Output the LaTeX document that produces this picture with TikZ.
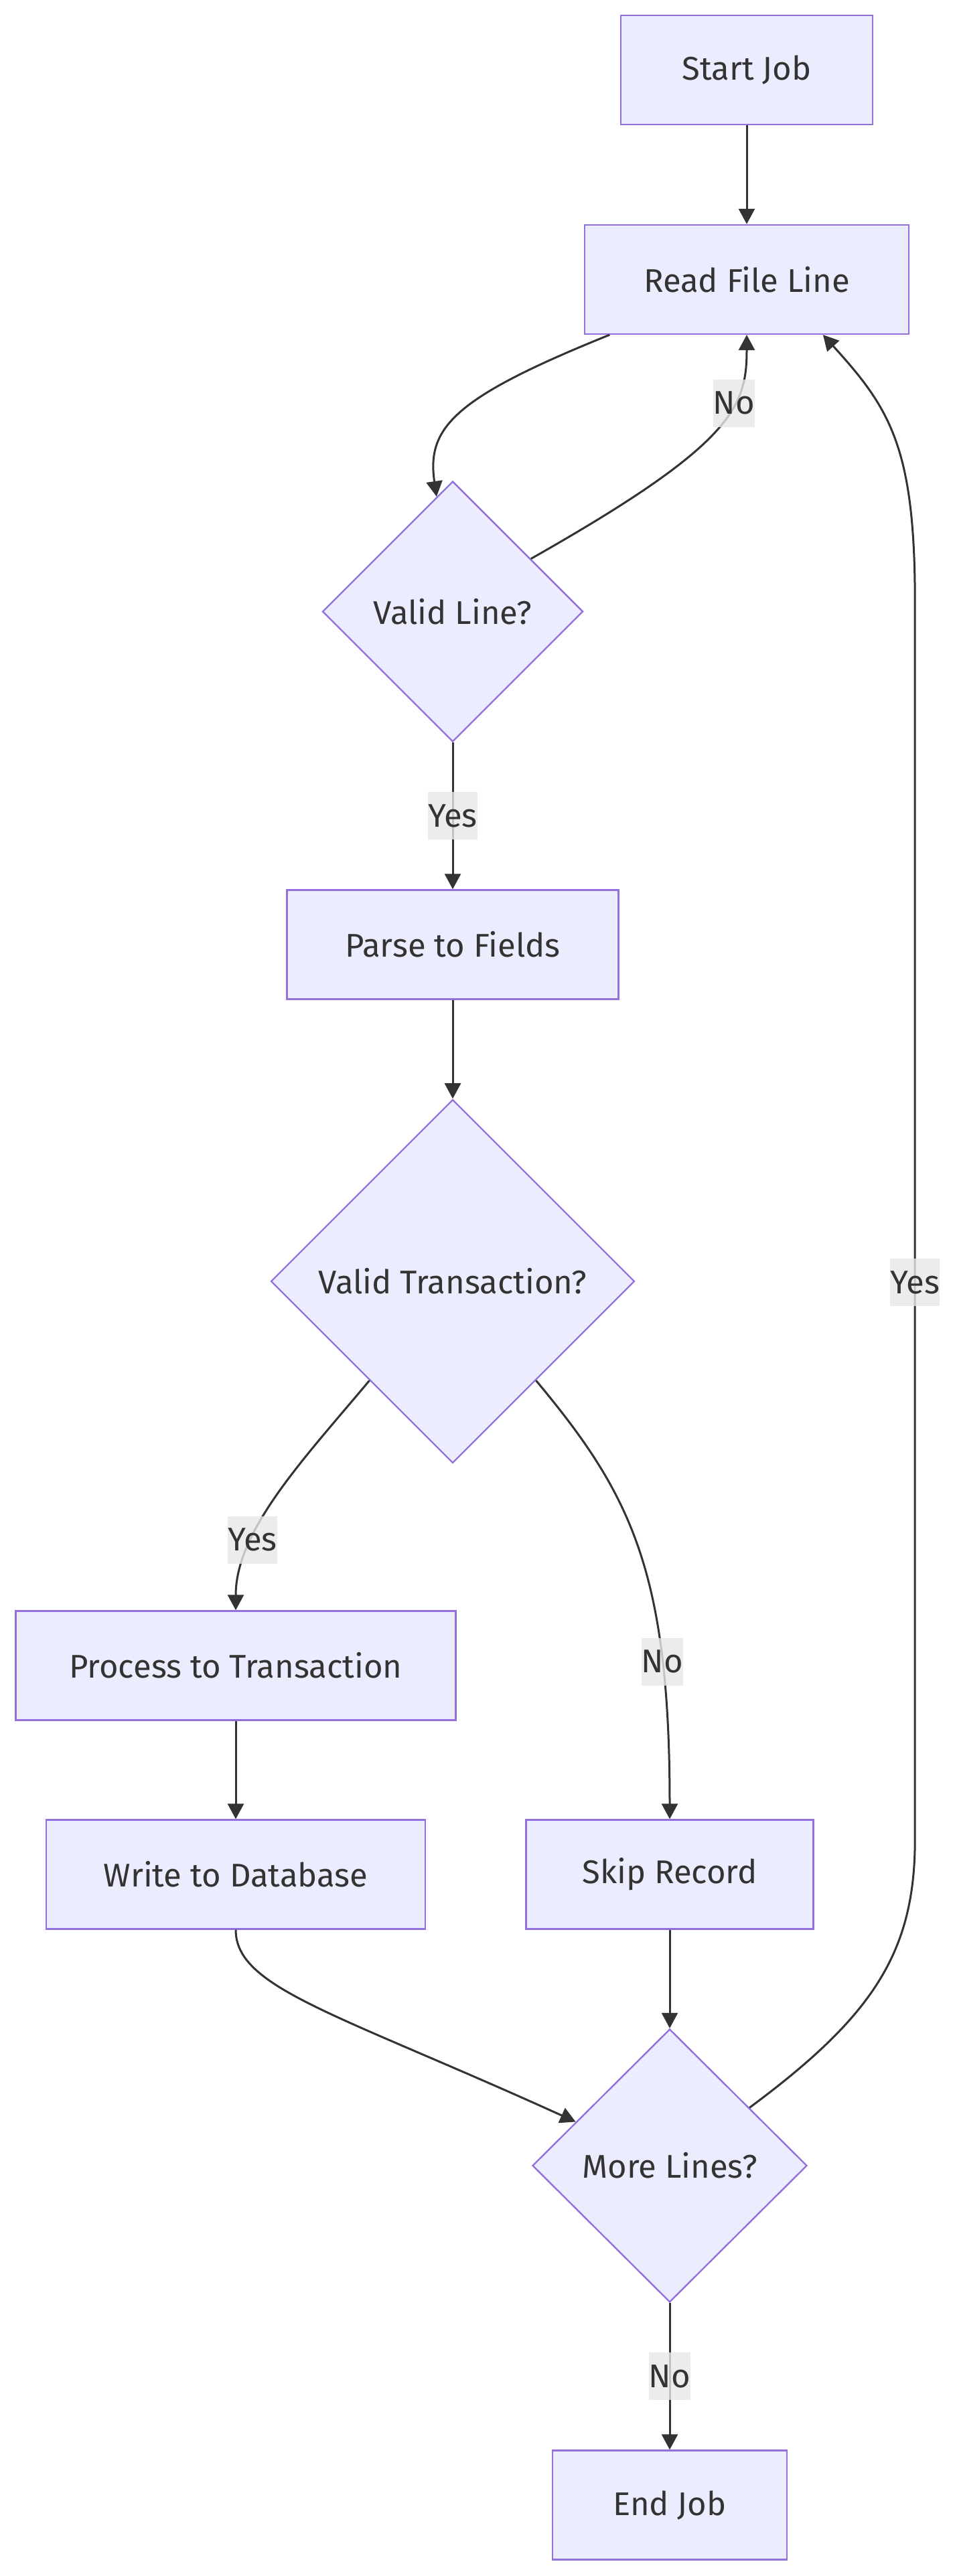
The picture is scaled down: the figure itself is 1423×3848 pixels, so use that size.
\documentclass[tikz,border=0pt]{standalone}
\usepackage{fontspec}
\setmainfont{Fira Sans}
\usepackage{tikz}
\usetikzlibrary{arrows.meta,shapes.geometric}
\usepackage{xcolor}
\definecolor{cpurple}{HTML}{9370DB}
\definecolor{clavender}{HTML}{ECECFF}
\definecolor{cdark}{HTML}{333333}
\definecolor{cgray}{HTML}{E8E8E8}

\begin{document}
\begin{tikzpicture}[x=0.5pt, y=0.5pt,
    box/.style={draw=cpurple, fill=clavender, line width=1.2pt,
      minimum height=81.5pt, text=cdark, font=\fontsize{24.5}{29}\selectfont},
    decision/.style={box, diamond, aspect=1, inner sep=0pt},
    flow/.style={draw=cdark, line width=1.5pt,
      -{Triangle[length=11.5pt, width=12pt]}},
    lbl/.style={fill=cgray, fill opacity=0.8, text opacity=1, text=cdark,
      inner sep=0pt, minimum height=35.5pt, font=\fontsize{24.5}{29}\selectfont}]
    \path[fill=white, use as bounding box] (0,0) rectangle (1423,3848);

    \node[box, minimum width=188pt] (start) at (1115,3743.5) {Start Job};
    \node[box, minimum width=242pt] (read) at (1115,3430.5) {Read File Line};
    \node[decision, minimum width=194.5pt, minimum height=194.5pt]
      (validline) at (676,2934.5) {Valid Line?};
    \node[box, minimum width=247.5pt] (parse) at (676,2437) {Parse to Fields};
    \node[decision, minimum width=271.5pt, minimum height=271.5pt]
      (validtx) at (676,1934) {Valid Transaction?};
    \node[box, minimum width=328.5pt] (process) at (352,1360) {Process to Transaction};
    \node[box, minimum width=283pt] (write) at (352,1048) {Write to Database};
    \node[box, minimum width=214.5pt] (skip) at (1000,1048) {Skip Record};
    \node[decision, minimum width=205pt, minimum height=204pt]
      (more) at (1000,613) {More Lines?};
    \node[box, minimum width=175pt] (endjob) at (1000,106) {End Job};

    \draw[flow] (start) -- (read);
    \draw[flow] (read.202) .. controls +(-233,-94) and +(-15,103) .. (validline.98);
    \draw[flow] (validline.34) .. controls +(300,170) and +(0,-109) .. (read.south)
      node[lbl, pos=0.65] {No};
    \draw[flow] (validline) -- node[lbl] {Yes} (parse);
    \draw[flow] (parse) -- (validtx);
    \draw[flow] (validtx.230) .. controls +(-96,-115) and +(0,120) .. (process.north)
      node[lbl, pos=0.7] {Yes};
    \draw[flow] (validtx.310) .. controls +(141,-169) and +(0,371) .. (skip.north)
      node[lbl, pos=0.75] {No};
    \draw[flow] (process) -- (write);
    \draw[flow] (write.south) .. controls +(0,-87) and +(-359,163) .. (more.155);
    \draw[flow] (skip) -- (more);
    \draw[flow] (more.36) .. controls +(182,135) and +(0,-170) .. ++(247,400)
      -- ++(0,1850) node[lbl, pos=0.45] {Yes}
      .. controls +(0,230) and +(100,-110) .. (read.-36);
    \draw[flow] (more) -- node[lbl] {No} (endjob);
\end{tikzpicture}
\end{document}
